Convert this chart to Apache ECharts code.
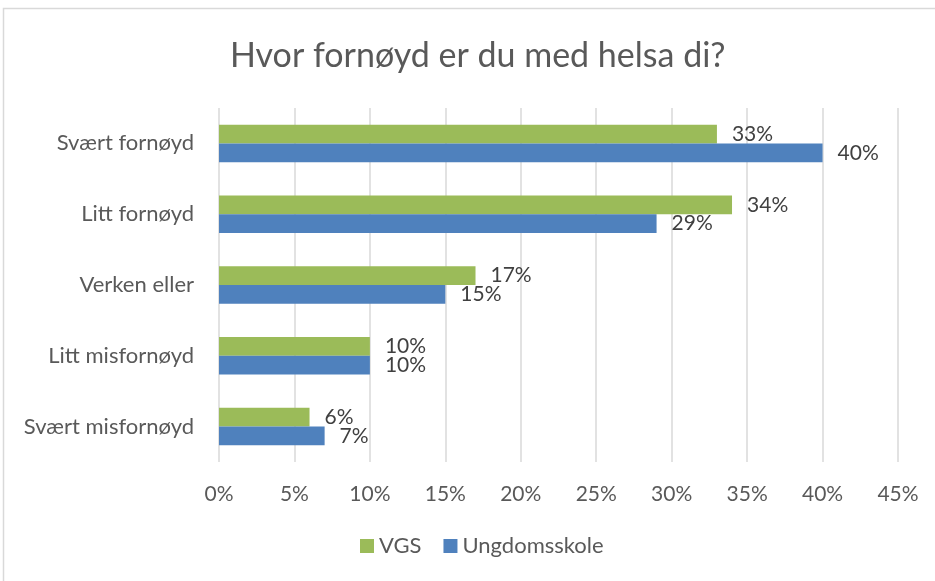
<!DOCTYPE html>
<html>
<head>
<meta charset="utf-8">
<title>Hvor fornøyd er du med helsa di?</title>
<script src="https://cdn.jsdelivr.net/npm/echarts@6/dist/echarts.min.js"></script>
<style>
	html, body {margin:0;padding:0;background:#fff;}
	#chart {width:935px;height:581px;}
</style>
</head>
<body>
<div id="chart"></div>
<script>
	// data
	var categories = ['Svært fornøyd', 'Litt fornøyd', 'Verken eller', 'Litt misfornøyd', 'Svært misfornøyd'];
	var vgs = [33, 34, 17, 10, 6];
	var ungdomsskole = [40, 29, 15, 10, 7];
	var seriesNames = ['VGS', 'Ungdomsskole'];

	var font = 'Lato, "Open Sans", sans-serif';
	var chart = echarts.init(document.getElementById('chart'));

	var labelStyle = {
		show: true,
		position: 'right',
		distance: 15,
		formatter: '{c}%',
		color: '#404040',
		fontSize: 21,
		fontFamily: font
	};

	var option = {
		animation: false,
		title: {
			text: 'Hvor fornøyd er du med helsa di?',
			left: 225,
			top: 34,
			textStyle: {
				fontFamily: font,
				fontWeight: 'normal',
				fontSize: 34,
				color: '#595959'
			}
		},
		graphic: [{
			type: 'rect',
			shape: {x: 3.5, y: 8.5, width: 1000, height: 1000},
			style: {fill: null, stroke: '#d9d9d9', lineWidth: 1.5},
			silent: true
		}],
		legend: {
			data: seriesNames,
			bottom: 19,
			left: 355,
			itemWidth: 14,
			itemHeight: 14,
			itemGap: 22,
			icon: 'rect',
			textStyle: {fontFamily: font, fontSize: 22, color: '#595959'}
		},
		grid: {
			left: 219,
			right: 37,
			top: 108,
			bottom: 119
		},
		xAxis: {
			type: 'value',
			min: 0,
			max: 45,
			interval: 5,
			axisLine: {show: false},
			axisTick: {show: false},
			axisLabel: {
				formatter: '{value}%',
				margin: 22,
				fontFamily: font,
				fontSize: 21,
				color: '#595959'
			},
			splitLine: {lineStyle: {color: '#d9d9d9', width: 1.5}}
		},
		yAxis: {
			type: 'category',
			data: categories,
			inverse: true,
			axisLine: {show: false},
			axisTick: {show: false},
			axisLabel: {
				margin: 25,
				fontFamily: font,
				fontSize: 22,
				color: '#595959'
			}
		},
		series: [{
			name: seriesNames[0],
			type: 'bar',
			data: vgs,
			itemStyle: {color: '#9bbb59'},
			barGap: '0%',
			barCategoryGap: '47%',
			label: labelStyle
		}, {
			name: seriesNames[1],
			type: 'bar',
			data: ungdomsskole,
			itemStyle: {color: '#4f81bd'},
			barGap: '0%',
			barCategoryGap: '47%',
			label: labelStyle
		}]
	};
	chart.setOption(option);
</script>
</body>
</html>
